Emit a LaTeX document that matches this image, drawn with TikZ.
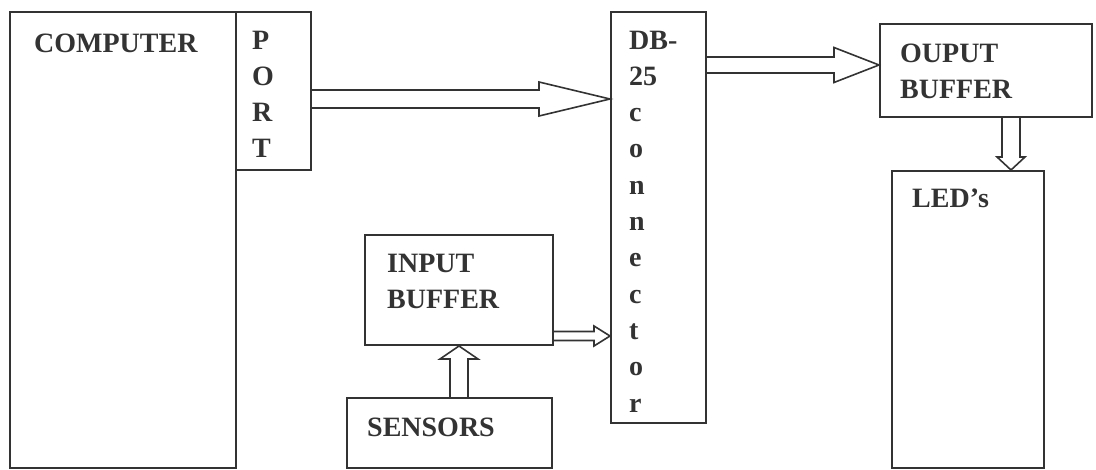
\documentclass[tikz,border=0pt]{standalone}
\usepackage{fontspec}
\setmainfont{Liberation Serif}
\usetikzlibrary{calc}
\definecolor{ink}{HTML}{333333}

\tikzset{
  box/.style={draw=ink, line width=2pt, rectangle, inner sep=0pt},
  lbl/.style={inner sep=0pt, anchor=north west, align=left, text=ink,
    font=\bfseries\fontsize{28}{36.3}\selectfont},
  % hollow bus arrow: {shaft half width}{head half width}{head length}
  bus/.style n args={3}{draw=ink, line width=1.6pt, line join=miter, to path={
      let \p1=($(\tikztotarget)!#3!(\tikztostart)$) in
      ($(\tikztostart)!#1!90:(\tikztotarget)$) -- ($(\p1)!#1!-90:(\tikztostart)$)
      -- ($(\p1)!#2!-90:(\tikztostart)$) -- (\tikztotarget)
      -- ($(\p1)!#2!90:(\tikztostart)$) -- ($(\p1)!#1!90:(\tikztostart)$)
      -- ($(\tikztostart)!#1!-90:(\tikztotarget)$)}}
}

\begin{document}
\begin{tikzpicture}[x=1pt,y=-1pt]
    \useasboundingbox (0,0) rectangle (1096,470);
    %% blocks
    \node[box, minimum width=226pt, minimum height=456pt] (comp) at (123,240) {};
    \node[box, minimum width=75pt, minimum height=158pt] (port) at (273.5,91) {};
    \node[box, minimum width=95pt, minimum height=411pt] (db) at (658.5,217.5) {};
    \node[box, minimum width=212pt, minimum height=93pt] (obuf) at (986,70.5) {};
    \node[box, minimum width=152pt, minimum height=297pt] (led) at (968,319.5) {};
    \node[box, minimum width=188pt, minimum height=110pt] (ibuf) at (459,290) {};
    \node[box, minimum width=205pt, minimum height=70pt] (sens) at (449.5,433) {};
    %% texts
    \node[lbl] (comptxt) at ([shift={(25,22.5)}]comp.north west) {COMPUTER};
    \node[lbl] (porttxt) at ([shift={(17,19.5)}]port.north west) {P\\O\\R\\T};
    \node[lbl] (dbtxt) at ([shift={(19,19.5)}]db.north west) {DB-\\25\\c\\o\\n\\n\\e\\c\\t\\o\\r};
    \node[lbl] (obuftxt) at ([shift={(21,20.5)}]obuf.north west) {OUPUT\\BUFFER};
    \node[lbl] (ledtxt) at ([shift={(21,18.5)}]led.north west) {LED's};
    \node[lbl] (ibuftxt) at ([shift={(23,19.5)}]ibuf.north west) {INPUT\\BUFFER};
    \node[lbl] (senstxt) at ([shift={(21,20.5)}]sens.north west) {SENSORS};
    %% buses
    \coordinate (pout) at ([yshift=-8pt]port.east);
    \draw[bus={9pt}{17pt}{71pt}] (pout) to (db.west |- pout);
    %
    \coordinate (oin) at ([yshift=5.5pt]obuf.west);
    \draw[bus={8pt}{17.5pt}{45pt}] (db.east |- oin) to (oin);
    %
    \coordinate (lin) at ([xshift=43pt]led.north);
    \draw[bus={9pt}{14pt}{13pt}] (obuf.south -| lin) to (lin);
    %
    \coordinate (iout) at ([yshift=-46pt]ibuf.east);
    \draw[bus={4.5pt}{10pt}{16pt}] (iout) to (db.west |- iout);
    %
    \draw[bus={9pt}{19pt}{13pt}] (sens.north -| ibuf.south) to (ibuf.south);
\end{tikzpicture}
\end{document}
